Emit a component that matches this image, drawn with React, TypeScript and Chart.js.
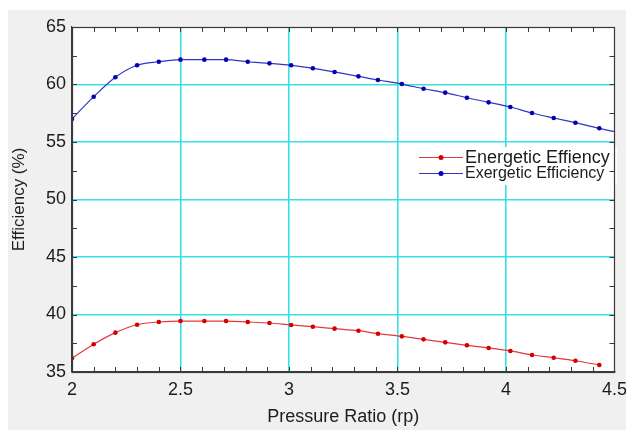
import React, { useEffect, useRef } from "react";
import { Chart, registerables } from "chart.js";

Chart.register(...registerables);

// ---- data ----
const pressureRatio = [
  2.0, 2.1, 2.2, 2.3, 2.4, 2.5, 2.61, 2.71, 2.81, 2.91, 3.01, 3.11, 3.21,
  3.32, 3.41, 3.52, 3.62, 3.72, 3.82, 3.92, 4.02, 4.12, 4.22, 4.32, 4.43,
];
const energeticEfficiency = [
  36.19, 37.41, 38.42, 39.11, 39.35, 39.43, 39.43, 39.43, 39.35, 39.26, 39.09,
  38.94, 38.77, 38.59, 38.33, 38.1, 37.84, 37.58, 37.32, 37.09, 36.83, 36.48,
  36.24, 35.98, 35.61,
];
const exergeticEfficiency = [
  57.0, 58.94, 60.63, 61.67, 61.98, 62.16, 62.16, 62.16, 61.98, 61.84, 61.67,
  61.41, 61.09, 60.71, 60.39, 60.04, 59.63, 59.29, 58.85, 58.45, 58.04, 57.52,
  57.09, 56.68, 56.19,
];
// line continues (without marker) to the right edge
const exergeticTailX = [4.5];
const exergeticTailY = [55.9];

const seriesLabels = ["Energetic Effiency", "Exergetic Efficiency"];
const xAxisTitle = "Pressure Ratio (rp)";
const yAxisTitle = "Efficiency (%)";
const xMin = 2;
const xMax = 4.5;
const xStep = 0.5;
const xMinorStep = 0.1;
const yMin = 35;
const yMax = 65;
const yStep = 5;
const yMinorStep = 2.5;

// ---- styles ----
const FONT = "'Liberation Sans', Arial, Helvetica, sans-serif";
const TEXT = "#1c1c1c";
const GRID = "rgba(45,222,228,0.95)";
const FRAME = "#3a3a3a";
const RED_LINE = "#e23a3a";
const RED_MARK = "#d40000";
const BLUE_LINE = "#3434c4";
const BLUE_MARK = "#0000b4";

const plotBackground = {
  id: "plotBackground",
  beforeDraw(chart: any) {
    const { ctx, chartArea: a } = chart;
    ctx.save();
    ctx.fillStyle = "#ffffff";
    ctx.fillRect(a.left, a.top, a.right - a.left, a.bottom - a.top);
    ctx.restore();
  },
};

const frameAndMinorTicks = {
  id: "frameAndMinorTicks",
  afterDraw(chart: any) {
    const { ctx, chartArea: a, scales } = chart;
    const xs = scales.x;
    const ys = scales.y;
    ctx.save();
    ctx.strokeStyle = FRAME;
    ctx.lineWidth = 1;
    ctx.beginPath();
    const tl = 5;
    const nx = Math.round((xs.max - xs.min) / xMinorStep);
    for (let i = 0; i <= nx; i++) {
      const px = Math.round(xs.getPixelForValue(xs.min + i * xMinorStep)) + 0.5;
      ctx.moveTo(px, a.bottom);
      ctx.lineTo(px, a.bottom - tl);
      ctx.moveTo(px, a.top);
      ctx.lineTo(px, a.top + tl);
    }
    const ny = Math.round((ys.max - ys.min) / yMinorStep);
    for (let i = 0; i <= ny; i++) {
      const py = Math.round(ys.getPixelForValue(ys.min + i * yMinorStep)) + 0.5;
      ctx.moveTo(a.left, py);
      ctx.lineTo(a.left + tl, py);
      ctx.moveTo(a.right, py);
      ctx.lineTo(a.right - tl, py);
    }
    ctx.stroke();
    ctx.strokeStyle = FRAME;
    ctx.lineWidth = 1.2;
    ctx.strokeRect(
      Math.round(a.left) + 0.5,
      Math.round(a.top) + 0.5,
      Math.round(a.right - a.left),
      Math.round(a.bottom - a.top)
    );
    ctx.restore();
  },
};

const insideLegend = {
  id: "insideLegend",
  afterDatasetsDraw(chart: any, _args: any, opts: any) {
    const { ctx } = chart;
    const ds = chart.data.datasets;
    ctx.save();
    ctx.fillStyle = "#ffffff";
    ctx.fillRect(opts.boxX, opts.boxY, opts.boxW, opts.boxH);
    for (let i = 0; i < ds.length; i++) {
      const y = opts.rowY[i];
      ctx.strokeStyle = ds[i].borderColor;
      ctx.lineWidth = 1.2;
      ctx.beginPath();
      ctx.moveTo(opts.lineX0, y);
      ctx.lineTo(opts.lineX1, y);
      ctx.stroke();
      ctx.fillStyle = ds[i].pointBackgroundColor;
      ctx.beginPath();
      ctx.arc((opts.lineX0 + opts.lineX1) / 2, y, 2.5, 0, Math.PI * 2);
      ctx.fill();
      ctx.fillStyle = TEXT;
      ctx.font = `${opts.fontSizes[i]}px ${FONT}`;
      ctx.textBaseline = "middle";
      ctx.textAlign = "left";
      ctx.fillText(ds[i].label, opts.textX, y + 0.5);
    }
    ctx.restore();
  },
};

export default function App() {
  const canvasRef = useRef<HTMLCanvasElement | null>(null);

  useEffect(() => {
    if (!canvasRef.current) return;
    const energeticData = pressureRatio.map((x, i) => ({ x, y: energeticEfficiency[i] }));
    const exergeticData = pressureRatio
      .map((x, i) => ({ x, y: exergeticEfficiency[i] }))
      .concat(exergeticTailX.map((x, i) => ({ x, y: exergeticTailY[i] })));

    const chart = new Chart(canvasRef.current, {
      type: "line",
      data: {
        datasets: [
          {
            label: seriesLabels[0],
            data: energeticData,
            borderColor: RED_LINE,
            backgroundColor: RED_MARK,
            pointBackgroundColor: RED_MARK,
            pointBorderColor: RED_MARK,
            pointRadius: 2.3,
            pointBorderWidth: 0,
            borderWidth: 1.2,
            cubicInterpolationMode: "monotone",
            fill: false,
          },
          {
            label: seriesLabels[1],
            data: exergeticData,
            borderColor: BLUE_LINE,
            backgroundColor: BLUE_MARK,
            pointBackgroundColor: BLUE_MARK,
            pointBorderColor: BLUE_MARK,
            pointRadius: (c: any) => (c.dataIndex < pressureRatio.length ? 2.3 : 0),
            pointBorderWidth: 0,
            borderWidth: 1.2,
            cubicInterpolationMode: "monotone",
            fill: false,
          },
        ],
      },
      options: {
        responsive: false,
        animation: false,
        devicePixelRatio: 1,
        layout: { padding: { top: 17, right: 15, left: 0, bottom: 0 } },
        plugins: {
          legend: { display: false },
          tooltip: { enabled: false },
          insideLegend: {
            boxX: 407,
            boxY: 137,
            boxW: 202,
            boxH: 38,
            lineX0: 411,
            lineX1: 455,
            textX: 457,
            rowY: [147.5, 163.5],
            fontSizes: [18, 16],
          },
        } as any,
        scales: {
          x: {
            type: "linear",
            min: xMin,
            max: xMax,
            afterFit: (s: any) => {
              s.height = 58;
            },
            ticks: {
              stepSize: xStep,
              color: TEXT,
              font: { family: FONT, size: 18 },
              padding: 7,
              maxRotation: 0,
              callback: (v: any) => String(Number(v)),
            },
            grid: {
              drawTicks: false,
              lineWidth: 1.6,
              color: (c: any) =>
                c.tick && (c.tick.value <= xMin || c.tick.value >= xMax) ? "rgba(0,0,0,0)" : GRID,
            },
            border: { display: true, color: FRAME, width: 1.2 },
            title: {
              display: true,
              text: xAxisTitle,
              color: TEXT,
              font: { family: FONT, size: 18 },
              padding: { top: 0, bottom: 2.5 },
            },
          },
          y: {
            type: "linear",
            min: yMin,
            max: yMax,
            afterFit: (s: any) => {
              s.width = 64;
            },
            ticks: {
              stepSize: yStep,
              color: TEXT,
              font: { family: FONT, size: 18 },
              padding: 6,
            },
            grid: {
              drawTicks: false,
              lineWidth: 1.6,
              color: (c: any) =>
                c.tick && (c.tick.value <= yMin || c.tick.value >= yMax) ? "rgba(0,0,0,0)" : GRID,
            },
            border: { display: true, color: FRAME, width: 1.2 },
            title: {
              display: true,
              text: yAxisTitle,
              color: TEXT,
              font: { family: FONT, size: 17 },
              padding: { top: 1, bottom: 0 },
            },
          },
        },
      },
      plugins: [plotBackground, insideLegend, frameAndMinorTicks],
    });
    return () => chart.destroy();
  }, []);

  return (
    <div style={{ paddingTop: 2 }}>
      <div style={{ width: 626, height: 420, background: "#f0f0f0" }}>
        <canvas ref={canvasRef} width={626} height={420} style={{ display: "block" }} />
      </div>
    </div>
  );
}
